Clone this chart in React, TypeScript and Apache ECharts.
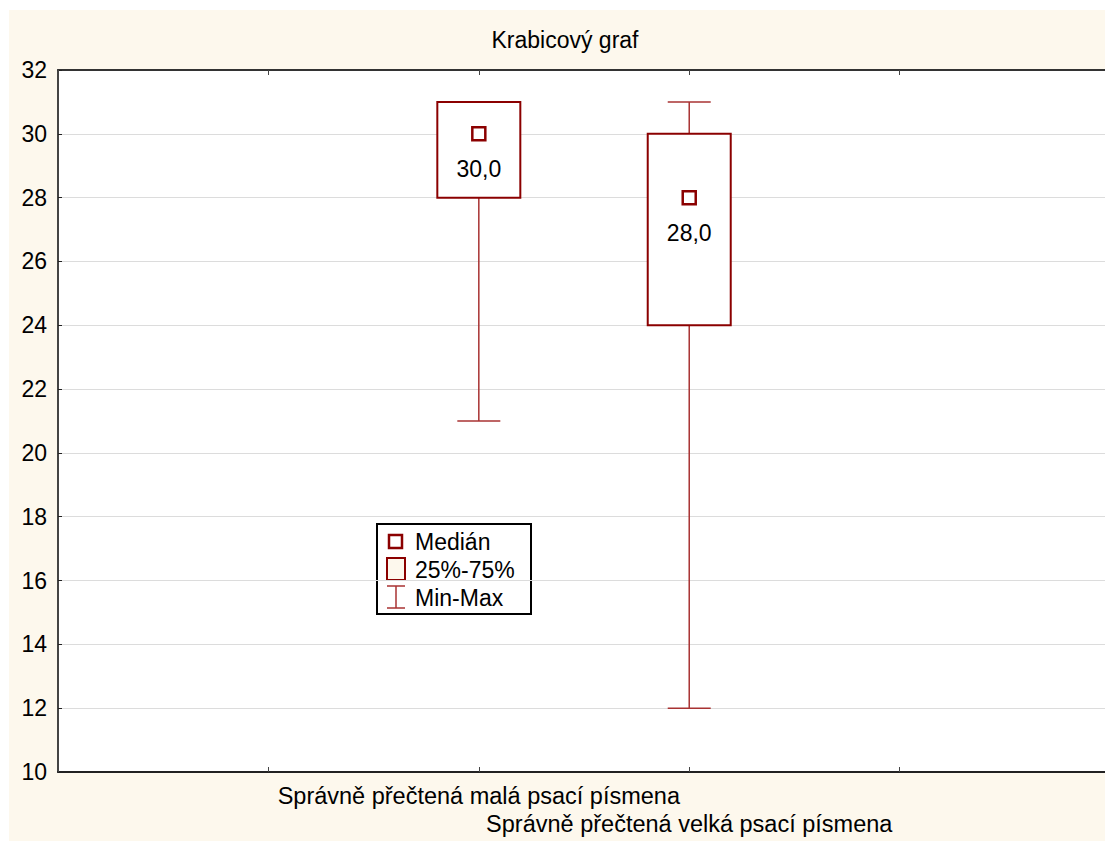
import React, { useEffect, useRef } from "react";
import * as echarts from "echarts";

const titleText = "Krabicový graf";
const categories = ["Správně přečtená malá psací písmena", "Správně přečtená velká psací písmena"];
const categoryPositions = [2, 3];
const minValues = [21, 12];
const q1Values = [28, 24];
const medianValues = [30, 28];
const q3Values = [31, 30];
const maxValues = [31, 31];
const medianLabels = ["30,0", "28,0"];
const legendLabels = ["Medián", "25%-75%", "Min-Max"];

const FONT = 'Arial, "Liberation Sans", sans-serif';
const FS = 23;
const DARK_RED = "#8b0000";
const WHISKER = "#a83232";
const CREAM = "#fdf8ed";

export default function App() {
  const ref = useRef<HTMLDivElement>(null);
  useEffect(() => {
    if (!ref.current) return;
    const chart = echarts.init(ref.current, null, { renderer: "svg" });
    const data = categoryPositions.map((x, i) => [
      x, minValues[i], q1Values[i], medianValues[i], q3Values[i], maxValues[i], i,
    ]);
    const renderItem = (params: any, api: any) => {
      const x = api.value(0);
      const idx = api.value(6);
      const pMin = api.coord([x, api.value(1)]);
      const pQ1 = api.coord([x, api.value(2)]);
      const pMed = api.coord([x, api.value(3)]);
      const pQ3 = api.coord([x, api.value(4)]);
      const pMax = api.coord([x, api.value(5)]);
      const cx = pMed[0];
      const boxW = 83;
      const capW = 43;
      const wStyle = { stroke: WHISKER, lineWidth: 1.5, fill: "none" };
      const children: any[] = [
        { type: "line", shape: { x1: cx, y1: pMax[1], x2: cx, y2: pQ3[1] }, style: wStyle },
        { type: "line", shape: { x1: cx, y1: pQ1[1], x2: cx, y2: pMin[1] }, style: wStyle },
        { type: "line", shape: { x1: cx - capW / 2, y1: pMax[1], x2: cx + capW / 2, y2: pMax[1] }, style: wStyle },
        { type: "line", shape: { x1: cx - capW / 2, y1: pMin[1], x2: cx + capW / 2, y2: pMin[1] }, style: wStyle },
        {
          type: "rect",
          shape: { x: cx - boxW / 2, y: pQ3[1], width: boxW, height: pQ1[1] - pQ3[1] },
          style: { stroke: DARK_RED, lineWidth: 2, fill: "#fff" },
        },
        {
          type: "rect",
          shape: { x: cx - 6.5, y: pMed[1] - 6.5, width: 13, height: 13 },
          style: { stroke: DARK_RED, lineWidth: 2.5, fill: "#fff" },
        },
        {
          type: "text",
          x: cx,
          y: pMed[1] + 35,
          style: {
            text: medianLabels[idx],
            fill: "#000",
            font: `${FS}px ${FONT}`,
            align: "center",
            verticalAlign: "middle",
          },
        },
      ];
      return { type: "group", children };
    };

    const legendX = 377;
    const legendY = 524;
    chart.setOption({
      animation: false,
      backgroundColor: "#fff",
      title: {
        text: titleText,
        left: 560,
        top: 23,
        textAlign: "center",
        textStyle: { fontFamily: FONT, fontSize: FS, fontWeight: "normal", color: "#000" },
      },
      grid: { left: 58, top: 70, right: 0, bottom: 71, containLabel: false },
      xAxis: [
        {
          type: "value",
          min: 0,
          max: 4.976,
          interval: 1,
          position: "bottom",
          axisLine: { show: true, onZero: false, lineStyle: { color: "#222", width: 2 } },
          axisTick: { show: true, inside: true, length: 5, lineStyle: { color: "#444" } },
          splitLine: { show: false },
          axisLabel: {
            margin: 10,
            fontFamily: FONT,
            fontSize: 23.5,
            lineHeight: 28,
            color: "#000",
            showMinLabel: true,
            showMaxLabel: false,
            formatter: (v: number) => {
              const i = categoryPositions.indexOf(v);
              if (i < 0) return "";
              return i === 0 ? categories[0] : "\n" + categories[i];
            },
          },
        },
        {
          type: "value",
          min: 0,
          max: 4.976,
          interval: 1,
          position: "top",
          axisLine: { show: true, onZero: false, lineStyle: { color: "#333", width: 2 } },
          axisTick: { show: true, inside: true, length: 5, lineStyle: { color: "#444" } },
          splitLine: { show: false },
          axisLabel: { show: false },
        },
      ],
      yAxis: {
        type: "value",
        min: 10,
        max: 32,
        interval: 2,
        axisLine: { show: true, onZero: false, lineStyle: { color: "#444", width: 2 } },
        axisTick: { show: true, inside: true, length: 4, lineStyle: { color: "#222" } },
        splitLine: { show: true, lineStyle: { color: "#dcdcdc", width: 1 } },
        axisLabel: { margin: 11, fontFamily: FONT, fontSize: FS, color: "#000" },
      },
      graphic: [
        {
          type: "rect",
          z: -10,
          silent: true,
          shape: { x: 9, y: 10, width: 1096, height: 831 },
          style: { fill: CREAM },
        },
        {
          type: "rect",
          z: -9,
          silent: true,
          shape: { x: 58, y: 70, width: 1047, height: 702 },
          style: { fill: "#fff" },
        },
        {
          type: "group",
          z: 100,
          children: [
            {
              type: "rect",
              shape: { x: legendX, y: legendY, width: 154, height: 90 },
              style: { fill: "#fff", stroke: "#000", lineWidth: 2 },
            },
            {
              type: "rect",
              shape: { x: 389, y: 535, width: 13, height: 13 },
              style: { fill: "#fff", stroke: DARK_RED, lineWidth: 2.5 },
            },
            {
              type: "rect",
              shape: { x: 387, y: 558, width: 18, height: 22 },
              style: { fill: CREAM, stroke: DARK_RED, lineWidth: 2 },
            },
            { type: "line", shape: { x1: 387, y1: 586, x2: 405, y2: 586 }, style: { stroke: WHISKER, lineWidth: 1.5 } },
            { type: "line", shape: { x1: 396, y1: 586, x2: 396, y2: 608 }, style: { stroke: WHISKER, lineWidth: 1.5 } },
            { type: "line", shape: { x1: 387, y1: 608, x2: 405, y2: 608 }, style: { stroke: WHISKER, lineWidth: 1.5 } },
            ...legendLabels.map((t, i) => ({
              type: "text",
              x: 415,
              y: 542 + i * 28,
              style: { text: t, fill: "#000", font: `${FS}px ${FONT}`, verticalAlign: "middle", align: "left" },
            })),
          ],
        },
      ],
      series: [
        {
          type: "custom",
          xAxisIndex: 0,
          yAxisIndex: 0,
          renderItem,
          encode: { x: 0, y: [1, 2, 3, 4, 5] },
          data,
          z: 10,
        },
      ],
    });
    return () => chart.dispose();
  }, []);
  return (
    <div
      ref={ref}
      style={{ position: "absolute", left: 0, top: 0, width: 1105, height: 843 }}
    />
  );
}
